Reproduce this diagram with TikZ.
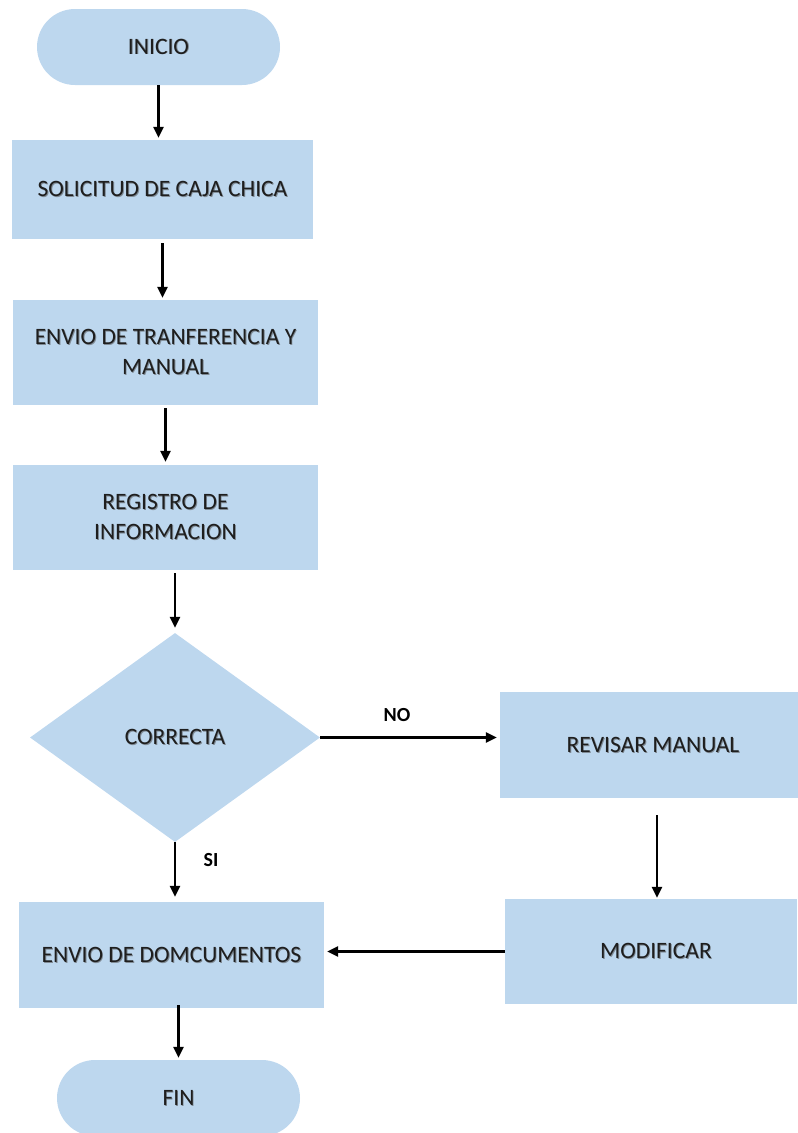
\documentclass[tikz,border=0pt]{standalone}
\usepackage{fontspec}
\setmainfont{Carlito}
\usetikzlibrary{shapes.geometric,arrows.meta}
\definecolor{boxfill}{HTML}{BDD7EE}
\definecolor{ink}{HTML}{1E1E1E}
\definecolor{shade}{HTML}{7F8A94}
% text with a soft drop shadow
\newcommand{\shd}[1]{\leavevmode\rlap{\hspace{0.9pt}\raisebox{-0.9pt}{\textcolor{shade}{#1}}}#1}
\begin{document}
\begin{tikzpicture}[x=1pt,y=-1pt,
  base/.style={fill=boxfill,draw=none,inner sep=0pt,text=ink,font=\fontsize{23.5}{30}\selectfont,align=center},
  terminal/.style={base,rounded corners=38pt,minimum height=76pt},
  process/.style={base,rectangle},
  decision/.style={base,diamond,aspect=1.39},
  arr/.style={draw=black,line width=2.4pt,-{Triangle[length=11pt,width=10pt]}},
  tag/.style={text=black,font=\fontsize{20}{22}\selectfont\bfseries}]
\useasboundingbox (0,0) rectangle (798,1133);

% flow nodes
\node[terminal,minimum width=243pt] (ini) at (158.5,47) {\shd{INICIO}};
\node[process,minimum width=301pt,minimum height=99pt] (sol) at (162.5,189.5) {\shd{SOLICITUD DE CAJA CHICA}};
\node[process,minimum width=305pt,minimum height=105pt] (env) at (165.5,352.5) {\shd{ENVIO DE TRANFERENCIA Y}\\\shd{MANUAL}};
\node[process,minimum width=305pt,minimum height=105pt] (reg) at (165.5,517.5) {\shd{REGISTRO DE}\\\shd{INFORMACION}};
\node[decision,minimum width=290pt,minimum height=209pt] (cor) at (175,737.5) {\shd{CORRECTA}};
\node[process,minimum width=298pt,minimum height=106pt] (rev) at (649,745) {\hspace*{8pt}\shd{REVISAR MANUAL}};
\node[process,minimum width=292pt,minimum height=105pt] (mod) at (651,951.5) {\hspace*{10pt}\shd{MODIFICAR}};
\node[process,minimum width=305pt,minimum height=106pt] (doc) at (171.5,955) {\shd{ENVIO DE DOMCUMENTOS}};
\node[terminal,minimum width=243pt] (fin) at (178.5,1098) {\shd{FIN}};

% connectors
\draw[arr,shorten >=2pt] (ini.south) -- (ini.south |- sol.north);
\draw[arr,shorten <=4pt,shorten >=2pt] (sol.south) -- (sol.south |- env.north);
\draw[arr,shorten <=3pt,shorten >=3pt] (env.south) -- (env.south |- reg.north);
\draw[arr,shorten <=3pt,shorten >=5pt] (cor.north |- reg.south) -- (cor.north);
\draw[arr,shorten >=3pt] (cor.east) -- (cor.east -| rev.west);
\draw[arr,shorten >=5pt] (cor.south) -- (cor.south |- doc.north);
\draw[arr,shorten <=17pt,shorten >=1pt] ([xshift=8pt]rev.south) -- ([xshift=6pt]mod.north);
\draw[arr,shorten >=3pt] (mod.west) -- (mod.west -| doc.east);
\draw[arr,shorten <=-3pt,shorten >=2pt] (fin.north |- doc.south) -- (fin.north);

% branch labels
\node[tag] (no) at (397,715) {NO};
\node[tag] (si) at (211,860) {SI};
\end{tikzpicture}
\end{document}
